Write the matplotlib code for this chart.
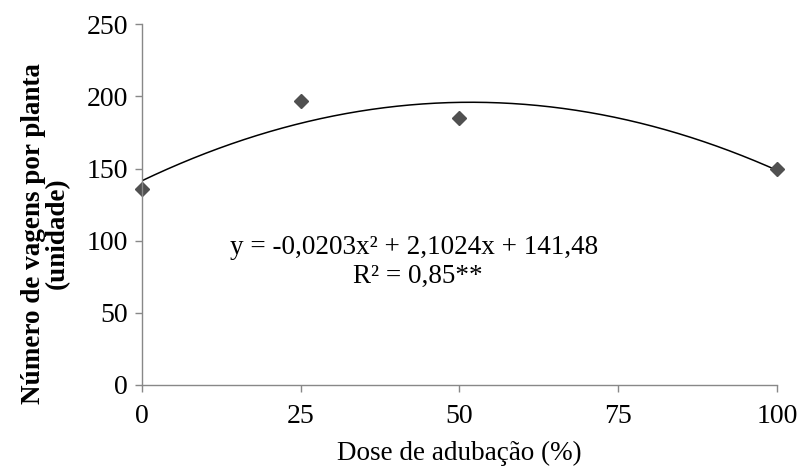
import numpy as np
import matplotlib
matplotlib.use("Agg")
from matplotlib import pyplot as plt

# dose de adubação (%) and observed pods per plant
dose = [0, 25, 50, 100]
vagens = [136, 197, 185, 150]
# quadratic trendline coefficients (as printed on the chart)
coef = [-0.0203, 2.1024, 141.48]
x_ticks = [0, 25, 50, 75, 100]
y_ticks = [0, 50, 100, 150, 200, 250]

plt.rcParams['font.family'] = ['Liberation Serif', 'DejaVu Serif']

fig = plt.figure(figsize=(7.97, 4.66), dpi=100)
ax = fig.add_axes([0.178, 0.174, 0.797, 0.774])

xs = np.linspace(0, 100, 200)
ax.plot(xs, np.polyval(coef, xs), color='black', lw=1.1)
ax.plot(dose, vagens, linestyle='none', marker='D', markersize=7,
        color='#505050', clip_on=False)

ax.set_xlim(0, 100)
ax.set_ylim(0, 250)
ax.set_xticks(x_ticks)
ax.set_yticks(y_ticks)
ax.tick_params(labelsize=20, color='#888888', length=5, width=1)
ax.tick_params(axis='x', pad=9)
ax.tick_params(axis='y', pad=5)
for s in ['top', 'right']:
    ax.spines[s].set_visible(False)
for s in ['left', 'bottom']:
    ax.spines[s].set_color('#888888')
    ax.spines[s].set_linewidth(1)

ax.set_xlabel('Dose de adubação (%)', fontsize=19.5, labelpad=8)
ax.set_ylabel('Número de vagens por planta\n(unidade)', fontsize=19.5,
              fontweight='bold', linespacing=0.95)
ax.yaxis.set_label_coords(-0.113, 0.42)

ax.text(42.8, 95, 'y = -0,0203x² + 2,1024x + 141,48', fontsize=19.5,
        ha='center', va='center')
ax.text(43.5, 75, 'R² = 0,85**', fontsize=19.5, ha='center', va='center')

fig.savefig('out.png', dpi=100)
